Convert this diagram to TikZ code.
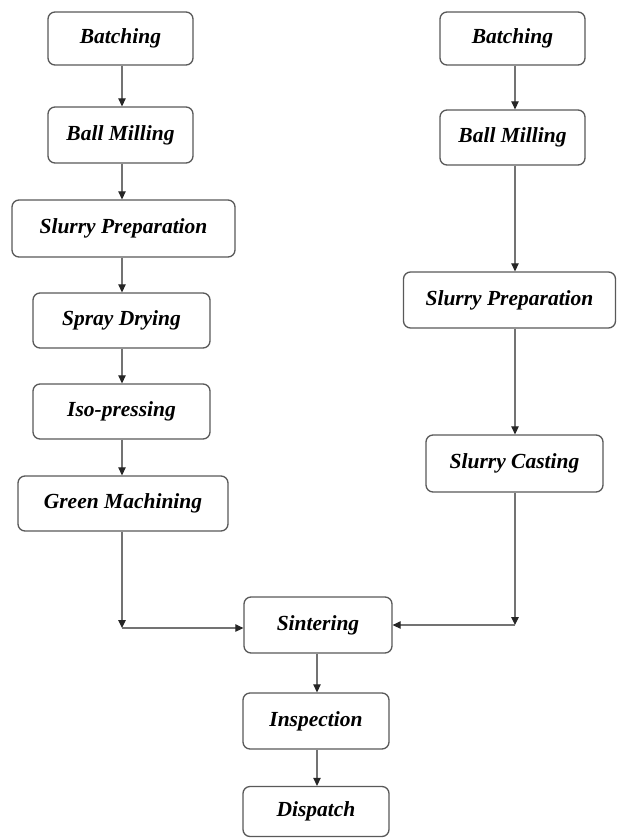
\documentclass[tikz,border=0pt]{standalone}
\usepackage{fontspec}
\setmainfont{Liberation Serif}
\usetikzlibrary{arrows.meta}
\begin{document}
\begin{tikzpicture}[x=1pt,y=-1pt,
  every node/.style={font=\fontsize{21.5}{24}\selectfont\bfseries\itshape},
  box/.style={draw=black!65,line width=1.3pt,rounded corners=7pt,inner sep=0pt,fill=white},
  arr/.style={-{Triangle[length=8pt,width=7.5pt,color=black!85]},draw=black!55,line width=1.2pt}]
  \useasboundingbox (0,0) rectangle (617,838);
  % left route (iso-pressed parts)
  \node[box,minimum width=145pt,minimum height=53pt] (lbatch) at (120.5,38.5) {Batching};
  \node[box,minimum width=145pt,minimum height=56pt] (lmill) at (120.5,135) {Ball Milling};
  \node[box,minimum width=223pt,minimum height=57pt] (lslurry) at (123.5,228.5) {Slurry Preparation};
  \node[box,minimum width=177pt,minimum height=55pt] (spray) at (121.5,320.5) {Spray Drying};
  \node[box,minimum width=177pt,minimum height=55pt] (iso) at (121.5,411.5) {Iso-pressing};
  \node[box,minimum width=210pt,minimum height=55pt] (green) at (123,503.5) {Green Machining};
  % right route (cast parts)
  \node[box,minimum width=145pt,minimum height=53pt] (rbatch) at (512.5,38.5) {Batching};
  \node[box,minimum width=145pt,minimum height=55pt] (rmill) at (512.5,137.5) {Ball Milling};
  \node[box,minimum width=212pt,minimum height=56pt] (rslurry) at (509.5,300) {Slurry Preparation};
  \node[box,minimum width=177pt,minimum height=57pt] (cast) at (514.5,463.5) {Slurry Casting};
  % common end
  \node[box,minimum width=148pt,minimum height=56pt] (sinter) at (318,625) {Sintering};
  \node[box,minimum width=146pt,minimum height=56pt] (insp) at (316,721) {Inspection};
  \node[box,minimum width=146pt,minimum height=50pt] (disp) at (316,811.5) {Dispatch};
  \coordinate (lcorner) at (122,628);
  \coordinate (rcorner) at (515,625);
  % connectors
  \draw[arr] (122,0 |- lbatch.south) -- (122,0 |- lmill.north);
  \draw[arr] (122,0 |- lmill.south) -- (122,0 |- lslurry.north);
  \draw[arr] (122,0 |- lslurry.south) -- (122,0 |- spray.north);
  \draw[arr] (122,0 |- spray.south) -- (122,0 |- iso.north);
  \draw[arr] (122,0 |- iso.south) -- (122,0 |- green.north);
  \draw[arr] (lcorner |- green.south) -- (lcorner);
  \draw[arr] (lcorner) -- (lcorner -| sinter.west);
  \draw[arr] (515,0 |- rbatch.south) -- (515,0 |- rmill.north);
  \draw[arr] (515,0 |- rmill.south) -- (515,0 |- rslurry.north);
  \draw[arr] (515,0 |- rslurry.south) -- (515,0 |- cast.north);
  \draw[arr] (rcorner |- cast.south) -- (rcorner);
  \draw[arr] (rcorner) -- (sinter.east);
  \draw[arr] (317,0 |- sinter.south) -- (317,0 |- insp.north);
  \draw[arr] (317,0 |- insp.south) -- (317,0 |- disp.north);
\end{tikzpicture}
\end{document}
